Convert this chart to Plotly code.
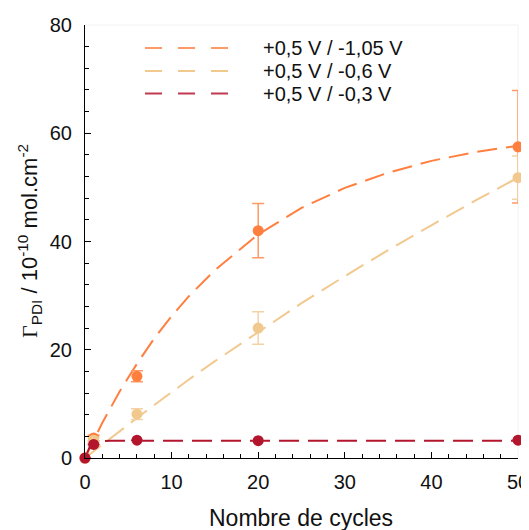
import plotly.graph_objects as go

# ---------------- data ----------------
cycles = [0, 1, 6, 20, 50]
g_105 = [0, 3.7, 15.1, 42.0, 57.5]
e_105 = [0, 0.5, 1.0, 5.0, 10.4]
g_06 = [0, 3.3, 8.1, 24.0, 51.8]
e_06 = [0, 0.5, 1.0, 3.0, 4.0]
g_03 = [0, 2.5, 3.3, 3.2, 3.3]
e_03 = [0, 0, 0, 0, 0]

# fitted curves
fit_x = [0, 2, 4, 6, 8, 10, 12, 15, 20, 25, 30, 35, 40, 45, 50]
fit_105 = [0, 6.5, 12.3, 17.4, 22.1, 26.2, 29.9, 34.7, 41.3, 46.2, 49.9, 52.7, 54.9, 56.5, 57.7]
fit_06 = [0, 2.5, 5.0, 7.4, 9.8, 12.2, 14.5, 17.9, 23.3, 28.6, 33.6, 38.4, 43.0, 47.5, 51.8]
fit03_x = [0, 0.5, 1, 1.5, 2, 3, 50]
fit_03 = [0, 1.9, 2.7, 3.0, 3.1, 3.2, 3.2]

x_ticks = [0, 10, 20, 30, 40, 50]
y_ticks = [0, 20, 40, 60, 80]
labels = ["+0,5 V / -1,05 V", "+0,5 V / -0,6 V", "+0,5 V / -0,3 V"]
x_title = "Nombre de cycles"
y_title = ("<span style='font-family:Liberation Serif'>Γ</span><sub>PDI</sub> / 10<sup>-10</sup>"
           " mol.cm<sup>-2</sup>")

c_or = "#FF7F3F"
c_or_l = "#FF9A66"
c_be = "#F1C98F"
c_be_l = "#F3D3A5"
c_rd = "#B3152D"
c_rd_l = "#C0394F"
txt = "#111111"
FONT = "Liberation Sans, Arial"

# the page body has an 8px margin, so the figure is shifted by (8, 8)
OFF = 8
W, H = 529 - OFF, 530 - OFF
L, T = 85 - OFF, 25 - OFF
pw, ph = 433, 433
R, B = W - L - pw, H - T - ph

fig = go.Figure()

dash = "20px,9px"
fig.add_trace(go.Scatter(x=fit_x, y=fit_105, mode="lines",
                         line=dict(color=c_or, width=2, dash=dash), showlegend=False))
fig.add_trace(go.Scatter(x=fit_x, y=fit_06, mode="lines",
                         line=dict(color=c_be, width=2, dash=dash), showlegend=False))
fig.add_trace(go.Scatter(x=fit03_x, y=fit_03, mode="lines",
                         line=dict(color=c_rd, width=2, dash=dash), showlegend=False))

for ys, es, col, colerr in [(g_105, e_105, c_or, c_or_l), (g_06, e_06, c_be, c_be_l), (g_03, e_03, c_rd, c_rd_l)]:
    fig.add_trace(go.Scatter(
        x=cycles, y=ys, mode="markers",
        marker=dict(color=col, size=11, line=dict(width=0)),
        error_y=dict(type="data", array=es, visible=True, color=colerr, thickness=1.5, width=6),
        cliponaxis=False, showlegend=False))


def px_x(p):
    # page pixel -> paper x
    return (p - OFF - L) / pw


def px_y(p):
    # page pixel -> paper y
    return (T + ph - (p - OFF)) / ph


legend_rows = [48, 71, 93.5]
legend_cols = [c_or_l, c_be, c_rd_l]
shapes = []
annotations = []
for lab, yrow, col in zip(labels, legend_rows, legend_cols):
    shapes.append(dict(type="line", xref="paper", yref="paper",
                       x0=px_x(145), x1=px_x(230), y0=px_y(yrow), y1=px_y(yrow),
                       line=dict(color=col, width=2, dash="17px,16px")))
    annotations.append(dict(xref="paper", yref="paper", x=px_x(261), y=px_y(yrow),
                            text=lab, showarrow=False, xanchor="left", yanchor="middle",
                            font=dict(size=20, color=txt, family=FONT)))

# axis titles
annotations.append(dict(xref="paper", yref="paper", x=px_x(301), y=px_y(518), text=x_title,
                        showarrow=False, xanchor="center", yanchor="middle",
                        font=dict(size=23, color=txt, family=FONT)))
annotations.append(dict(xref="paper", yref="paper", x=px_x(30), y=px_y(241), text=y_title,
                        textangle=-90, showarrow=False, xanchor="center", yanchor="middle",
                        font=dict(size=22, color=txt, family=FONT)))

# faint frame on top and right
shapes.append(dict(type="line", xref="paper", yref="paper", x0=0, x1=1, y0=1, y1=1,
                   line=dict(color="#F2F2F2", width=1), layer="below"))
shapes.append(dict(type="line", xref="paper", yref="paper", x0=1, x1=1, y0=0, y1=1,
                   line=dict(color="#F2F2F2", width=1), layer="below"))

axis_common = dict(showgrid=False, zeroline=False, showline=True, linecolor="black", linewidth=1,
                   ticks="inside", ticklen=6, tickwidth=1, tickcolor="black", automargin=False,
                   ticklabeloverflow="allow",
                   tickfont=dict(size=20, color=txt, family=FONT))

fig.update_layout(
    width=W, height=H,
    margin=dict(l=L, r=R, t=T, b=B, autoexpand=False),
    plot_bgcolor="white", paper_bgcolor="white",
    shapes=shapes, annotations=annotations,
    xaxis=dict(range=[0, 50], tickvals=x_ticks,
               minor=dict(dtick=2, ticks="inside", ticklen=4, tickcolor="black"),
               ticklabelstandoff=6,
               **axis_common),
    yaxis=dict(range=[0, 80], tickvals=y_ticks,
               minor=dict(dtick=4, ticks="inside", ticklen=4, tickcolor="black"),
               ticklabelstandoff=8,
               **axis_common),
)

fig.write_html("out.html")
